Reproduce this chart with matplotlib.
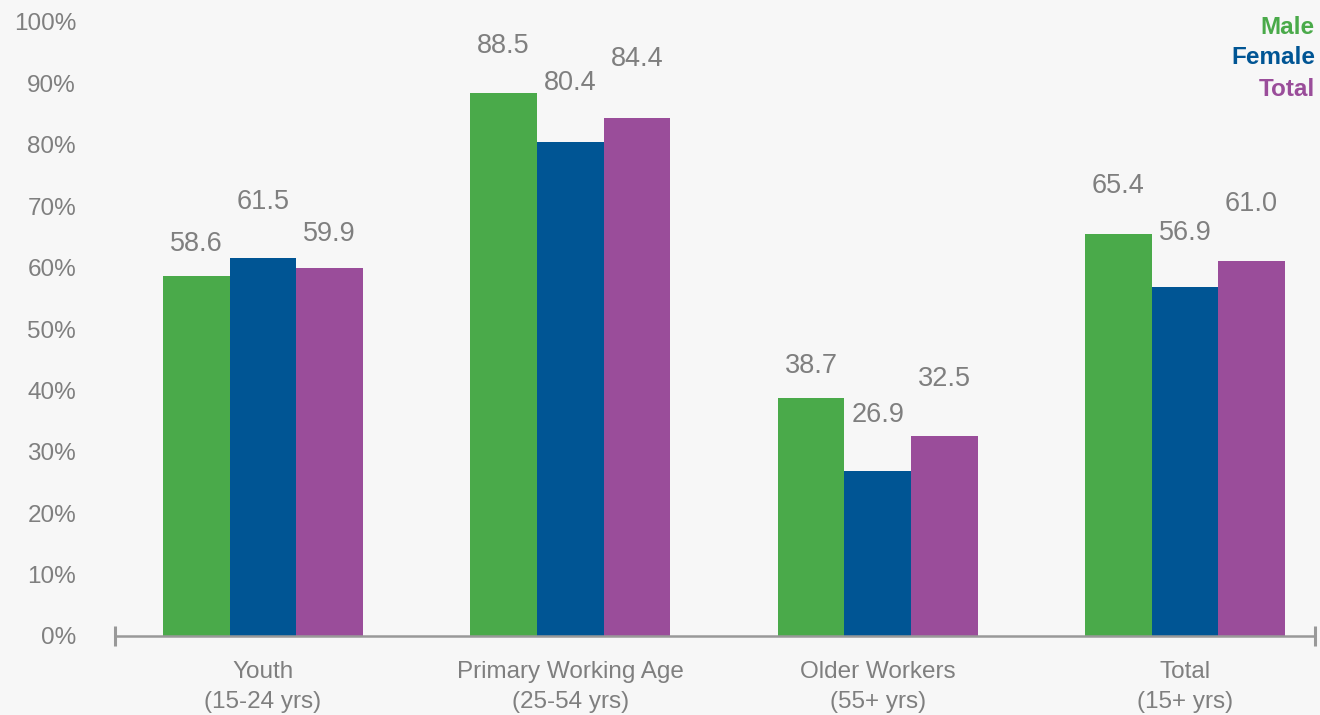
import matplotlib
matplotlib.use("Agg")
import matplotlib.pyplot as plt
import numpy as np

categories = ["Youth\n(15-24 yrs)", "Primary Working Age\n(25-54 yrs)", "Older Workers\n(55+ yrs)", "Total\n(15+ yrs)"]
series_names = ["Male", "Female", "Total"]
male = [58.6, 88.5, 38.7, 65.4]
female = [61.5, 80.4, 26.9, 56.9]
total = [59.9, 84.4, 32.5, 61.0]
yticks = [0, 10, 20, 30, 40, 50, 60, 70, 80, 90, 100]

colors = ["#4aaa4a", "#005594", "#9a4d9a"]
label_offsets_px = [
    [32, 47, 32, 48],
    [56, 59, 56, 54],
    [34, 59, 57, 57],
]

plt.rcParams['font.family'] = ['Liberation Sans', 'DejaVu Sans']
bg = "#f7f7f7"
grey = "#7f7f7f"

fig = plt.figure(figsize=(13.2, 7.15), dpi=100, facecolor=bg)
ax = fig.add_axes([115/1320, 1-636/715, 1200/1320, (636-22)/715])
ax.set_facecolor(bg)

x = np.arange(len(categories))
w = 0.217
data = [male, female, total]
for i, (vals, c) in enumerate(zip(data, colors)):
    pos = x + (i - 1) * w
    ax.bar(pos, vals, width=w, color=c, zorder=2)
    for j, (px, v) in enumerate(zip(pos, vals)):
        ax.annotate(f"{v:.1f}", (px, v), xytext=(0, label_offsets_px[i][j] * 0.72),
                    textcoords="offset points", ha="center", va="center",
                    fontsize=19.5, color=grey)

ax.set_xlim(-0.4816, 3.4233)
ax.set_ylim(0, 100)
ax.set_yticks(yticks)
ax.set_yticklabels([f"{t}%" for t in yticks], fontsize=17.5, color=grey)
ax.tick_params(axis='y', length=0, pad=28)
ax.set_xticks(x)
ax.set_xticklabels(categories, fontsize=17.5, color=grey, linespacing=1.45)
ax.tick_params(axis='x', length=0, pad=18)
for s in ["left", "right", "top", "bottom"]:
    ax.spines[s].set_visible(False)

xl = ax.get_xlim()
ax.plot(xl, [0, 0], color="#999999", lw=1.8, clip_on=False, zorder=3)
ax.plot(xl, [0, 0], ls="none", marker="|", markersize=14, mew=2.2, color="#999999", clip_on=False, zorder=3)

legend_y = [27, 58, 89]
for name, c, yy in zip(series_names, colors, legend_y):
    fig.text(1315/1320, 1 - yy/715, name, ha="right", va="center", fontsize=17.5, fontweight="bold", color=c)

fig.savefig("out.png", dpi=100, facecolor=bg)
